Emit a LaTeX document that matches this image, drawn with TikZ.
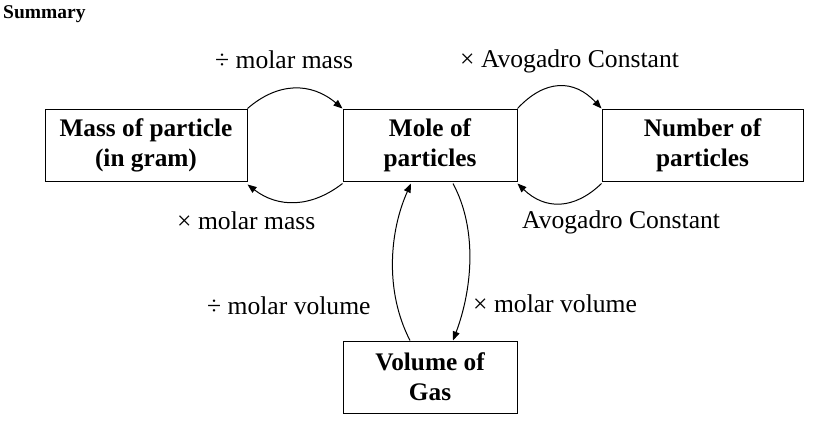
\documentclass[tikz,border=0pt]{standalone}
\usepackage{fontspec}
\setmainfont{Liberation Serif}
\usetikzlibrary{arrows.meta}
\begin{document}
\begin{tikzpicture}[x=1pt,y=-1pt,
  box/.style={draw,line width=1pt,minimum width=202pt,minimum height=72pt,inner sep=0pt,align=center,font=\fontsize{25.3}{30}\selectfont\bfseries},
  lbl/.style={inner sep=0pt,anchor=base west,font=\fontsize{25.6}{30}\selectfont},
  conn/.style={line width=1pt,-{Triangle[length=9pt,width=7pt]}}]
\useasboundingbox (0,0) rectangle (835,440);
\node[inner sep=0pt,anchor=base west,font=\fontsize{19.5}{22}\selectfont\bfseries] (title) at (3,18) {Summary};
\node[box] (mass) at (146,145) {Mass of particle\\(in gram)};
\node[box,minimum width=174pt] (mole) at (430,145) {Mole of\\particles};
\node[box,minimum width=201pt] (num) at (702.5,145) {Number of\\particles};
\node[box,minimum width=174pt] (vol) at (430,377) {Volume of\\Gas};
\node[lbl] (l1) at (215,68) {÷ molar mass};
\node[lbl] (l2) at (460,67) {× Avogadro Constant};
\node[lbl] (l3) at (177,229) {× molar mass};
\node[lbl] (l4) at (522,228) {Avogadro Constant};
\node[lbl] (l5) at (207,314) {÷ molar volume};
\node[lbl] (l6) at (473,312) {× molar volume};
\coordinate (mbl) at ([yshift=-2pt]mole.south west);
\coordinate (mbr) at ([yshift=-2pt]mole.south east);
\coordinate (mse) at ([yshift=-3pt]mass.south east);
\coordinate (nsw) at ([yshift=-2pt]num.south west);
\coordinate (vu) at ([xshift=-20pt]vol.north);
\coordinate (vd) at ([xshift=23pt]vol.north);
\coordinate (mu) at ([xshift=-19pt,yshift=-2pt]mole.south);
\coordinate (md) at ([xshift=23pt,yshift=-2pt]mole.south);
\draw[conn] (mass.north east) .. controls (278,82) and (311,82) .. (mole.north west);
\draw[conn] (mbl) .. controls (311,208) and (278,208) .. (mse);
\draw[conn] (mole.north east) .. controls (545,79) and (574,79) .. (num.north west);
\draw[conn] (nsw) .. controls (574,210) and (545,210) .. (mbr);
\draw[conn] (vu) .. controls (384,290) and (390,230) .. (mu);
\draw[conn] (md) .. controls (478,230) and (472,290) .. (vd);
\end{tikzpicture}
\end{document}
